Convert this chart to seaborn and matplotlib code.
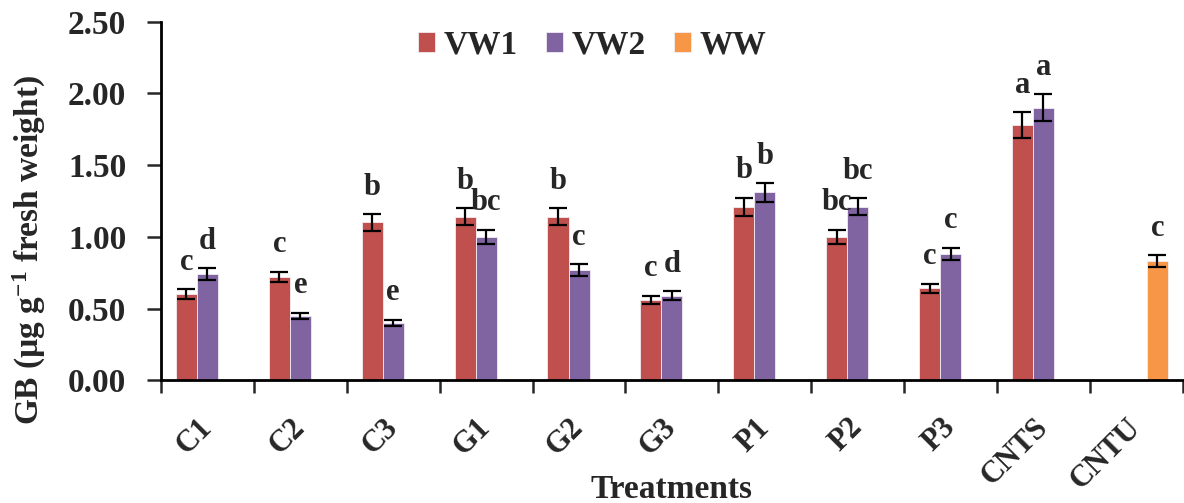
import seaborn as sns
import matplotlib.pyplot as plt
import matplotlib.transforms as mtrans
import pandas as pd
import numpy as np

# Data
treatments = ['C1', 'C2', 'C3', 'G1', 'G2', 'G3', 'P1', 'P2', 'P3', 'CNTS', 'CNTU']
series = ['VW1', 'VW2', 'WW']
vw1 = [0.60, 0.72, 1.10, 1.14, 1.14, 0.56, 1.21, 1.00, 0.64, 1.78, np.nan]
vw2 = [0.74, 0.45, 0.40, 1.00, 0.77, 0.59, 1.31, 1.21, 0.88, 1.90, np.nan]
ww = [np.nan] * 10 + [0.83]
vw1_err = [0.035, 0.037, 0.058, 0.058, 0.058, 0.028, 0.062, 0.05, 0.032, 0.088, np.nan]
vw2_err = [0.04, 0.022, 0.023, 0.05, 0.04, 0.03, 0.065, 0.058, 0.044, 0.095, np.nan]
ww_err = [np.nan] * 10 + [0.043]
vw1_let = ['c', 'c', 'b', 'b', 'b', 'c', 'b', 'bc', 'c', 'a', '']
vw2_let = ['d', 'e', 'e', 'bc', 'c', 'd', 'b', 'bc', 'c', 'a', '']
ww_let = [''] * 10 + ['c']

colors = ['#C0504D', '#8064A2', '#F79646']

rows = []
for s, vals, errs, lets in zip(series, [vw1, vw2, ww], [vw1_err, vw2_err, ww_err],
                               [vw1_let, vw2_let, ww_let]):
    for t, v, e, l in zip(treatments, vals, errs, lets):
        rows.append({'treatment': t, 'series': s, 'value': v, 'err': e, 'letter': l})
df = pd.DataFrame(rows)

sns.set_style('white')
plt.rcParams['font.family'] = ['Liberation Serif', 'DejaVu Serif']
plt.rcParams['font.weight'] = 'bold'
plt.rcParams['mathtext.fontset'] = 'custom'
plt.rcParams['mathtext.rm'] = 'Liberation Serif:bold'
plt.rcParams['mathtext.it'] = 'Liberation Serif:bold'
plt.rcParams['mathtext.bf'] = 'Liberation Serif:bold'

fig = plt.figure(figsize=(11.84, 5.03), dpi=100)
ax = fig.add_axes([0.136, 0.244, 0.863, 0.713])

sns.barplot(data=df, x='treatment', y='value', hue='series', order=treatments,
            hue_order=series, palette=colors, saturation=1, width=0.68,
            errorbar=None, edgecolor='#f2ecf2', linewidth=0.6, ax=ax)

# error bars and significance letters, placed on the bars seaborn drew
for cont, s in zip(ax.containers, series):
    sub = df[df.series == s].set_index('treatment')
    for bar in cont:
        h = bar.get_height()
        if np.isnan(h) or h == 0:
            continue
        xc = bar.get_x() + bar.get_width() / 2
        t = treatments[int(round(xc))]
        e = sub.loc[t, 'err']
        ax.errorbar(xc, h, yerr=e, fmt='none', ecolor='black', elinewidth=1.6,
                    capsize=6.5, capthick=1.6)
        ax.annotate(sub.loc[t, 'letter'], (xc, h + e), xytext=(0, 9),
                    textcoords='offset points', ha='center', va='bottom',
                    fontsize=22, fontweight='bold')

ax.set_ylim(0, 2.5)
ax.set_yticks(np.arange(0, 2.51, 0.5))
ax.set_yticklabels([f'{v:.2f}' for v in np.arange(0, 2.51, 0.5)])
ax.set_xlim(-0.5, len(treatments) - 0.5)

# boundary ticks (major) and centred labels (minor)
ax.set_xticks(np.arange(-0.5, len(treatments), 1.0))
ax.set_xticklabels([])
ax.set_xticks(np.arange(len(treatments)), minor=True)
ax.set_xticklabels(treatments, minor=True, rotation=45, ha='right',
                   va='center', rotation_mode='anchor', fontsize=22, fontweight='bold')
shift = mtrans.ScaledTranslation(5 / 72, 0, fig.dpi_scale_trans)
for lab in ax.get_xticklabels(minor=True):
    lab.set_transform(lab.get_transform() + shift)
ax.tick_params(axis='x', which='major', direction='out', length=9, width=1.8,
               bottom=True)
ax.tick_params(axis='x', which='minor', length=0, pad=31, bottom=True)
ax.tick_params(axis='y', direction='out', length=10, width=1.8, left=True,
               labelsize=24, pad=15)
for lab in ax.get_yticklabels():
    lab.set_fontweight('bold')

for side in ['top', 'right']:
    ax.spines[side].set_visible(False)
for side in ['left', 'bottom']:
    ax.spines[side].set_linewidth(2)
    ax.spines[side].set_color('black')

ax.set_xlabel('Treatments', fontsize=24, fontweight='bold')
ax.xaxis.set_label_coords(0.5, -0.262)
ax.set_ylabel('GB (µg g$^{-1}$ fresh weight)', fontsize=24, fontweight='bold')
ax.yaxis.set_label_coords(-0.111, 0.363)

ax.legend(loc='center', bbox_to_anchor=(0.5, 0.91), bbox_transform=fig.transFigure,
          ncol=3, frameon=False, handlelength=0.52, handleheight=0.52,
          handletextpad=0.25, columnspacing=0.85, prop={'weight': 'bold', 'size': 24})

fig.savefig('out.png', dpi=100)
